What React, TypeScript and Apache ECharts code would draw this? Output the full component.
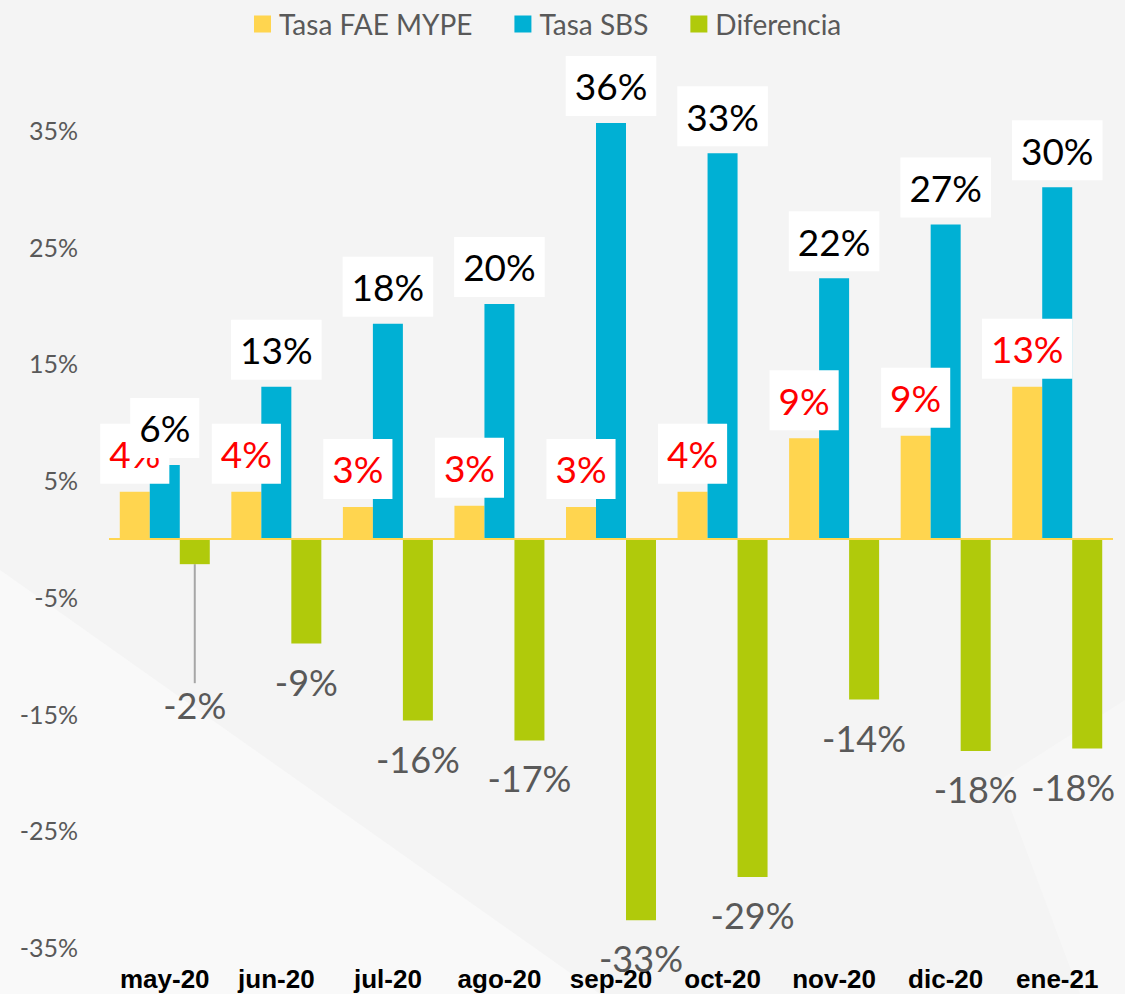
import React, { useEffect, useRef } from "react";
import * as echarts from "echarts";

const categories = ["may-20", "jun-20", "jul-20", "ago-20", "sep-20", "oct-20", "nov-20", "dic-20", "ene-21"];
const tasaFae = [4.0, 4.0, 2.7, 2.8, 2.7, 4.0, 8.6, 8.8, 13.0];
const tasaSbs = [6.3, 13.0, 18.4, 20.1, 35.6, 33.0, 22.3, 26.9, 30.1];
const diferencia = [-2.2, -9.0, -15.6, -17.3, -32.7, -29.0, -13.8, -18.2, -18.0];
const yTicks = { min: -35, max: 35, interval: 10 };

const FONT = "Lato, 'Noto Sans', sans-serif";
const pct = (p: any) => Math.round(p.value) + "%";

export default function App() {
  const ref = useRef<HTMLDivElement>(null);
  useEffect(() => {
    if (!ref.current) return;
    const chart = echarts.init(ref.current, undefined, { renderer: "svg" });
    chart.setOption({
      animation: false,
      backgroundColor: "#f4f4f4",
      graphic: [
        {
          type: "polygon",
          silent: true,
          z: -10,
          shape: { points: [[0, 570], [600, 994], [0, 994]] },
          style: { fill: "#f9f9f9" },
        },
        {
          type: "polygon",
          silent: true,
          z: -10,
          shape: { points: [[1000, 780], [1125, 700], [1125, 994], [1080, 994]] },
          style: { fill: "#f7f7f7" },
        },
      ],
      legend: {
        top: 5,
        left: 249,
        itemWidth: 17,
        itemHeight: 17,
        itemGap: 42,
        icon: "rect",
        textStyle: { fontFamily: FONT, fontSize: 28, color: "#595959", padding: [0, 0, 0, 3] },
        data: ["Tasa FAE MYPE", "Tasa SBS", "Diferencia"],
      },
      grid: { left: 109, right: 12, top: 130, bottom: 47, containLabel: false },
      xAxis: {
        type: "category",
        data: categories,
        axisLine: { show: false, onZero: false },
        axisTick: { show: false },
        axisLabel: {
          interval: 0,
          fontFamily: "'Liberation Sans', Arial, sans-serif",
          fontWeight: "bold",
          fontSize: 26,
          color: "#000",
          margin: 19,
        },
      },
      yAxis: {
        type: "value",
        min: yTicks.min,
        max: yTicks.max,
        interval: yTicks.interval,
        splitLine: { show: false },
        axisLine: { show: false },
        axisTick: { show: false },
        axisLabel: {
          fontFamily: FONT,
          fontSize: 25,
          color: "#595959",
          margin: 31,
          formatter: (v: number) => v + "%",
        },
      },
      series: [
        {
          name: "Tasa FAE MYPE",
          type: "bar",
          data: tasaFae,
          barWidth: 30,
          barGap: "0%",
          clip: false,
          itemStyle: { color: "#FFD54F" },
          label: {
            show: true,
            position: "top",
            distance: 8,
            formatter: pct,
            fontFamily: FONT,
            fontSize: 37,
            lineHeight: 44,
            color: "#FF0000",
            backgroundColor: "#ffffff",
            padding: [8, 9],
          },
          markLine: {
            silent: true,
            symbol: "none",
            label: { show: false },
            lineStyle: { color: "#FFD54F", width: 2, type: "solid" },
            data: [{ yAxis: 0 }],
          },
        },
        {
          name: "Tasa SBS",
          type: "bar",
          data: tasaSbs,
          barWidth: 30,
          barGap: "0%",
          clip: false,
          itemStyle: { color: "#00B0D4" },
          label: {
            show: true,
            position: "top",
            distance: 7,
            formatter: pct,
            fontFamily: FONT,
            fontSize: 37,
            lineHeight: 44,
            color: "#000000",
            backgroundColor: "#ffffff",
            padding: [8, 9],
          },
        },
        {
          name: "Diferencia",
          type: "bar",
          data: diferencia.map((v, i) =>
            i === 0 ? { value: v, labelLine: { show: true, lineStyle: { color: "#a6a6a6", width: 2 } } } : { value: v }
          ),
          barWidth: 30,
          barGap: "0%",
          clip: false,
          itemStyle: { color: "#B0CA0B" },
          label: {
            show: true,
            position: "bottom",
            distance: 16,
            formatter: pct,
            fontFamily: FONT,
            fontSize: 36,
            lineHeight: 44,
            color: "#595959",
          },
          labelLayout: (params: any) =>
            params.dataIndex === 0 ? { dy: 103 } : params.dataIndex === 8 ? { dx: -14 } : {},
        },
      ],
    });
    return () => chart.dispose();
  }, []);
  return (
    <div
      ref={ref}
      style={{ position: "fixed", left: 0, top: 0, width: 1125, height: 994 }}
    />
  );
}
